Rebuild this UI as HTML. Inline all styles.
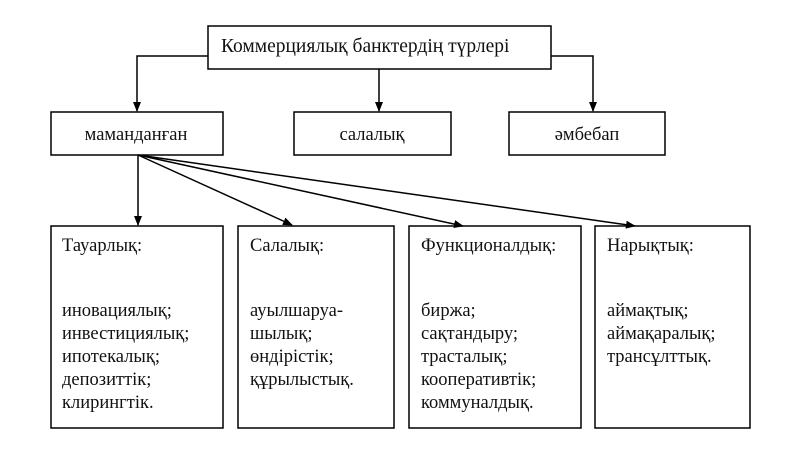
<!DOCTYPE html>
<html><head><meta charset="utf-8"><style>
html,body{margin:0;padding:0;background:#fff;}
svg{display:block;}
text{font-family:"Liberation Serif",serif;font-size:18.5px;fill:#111;}
</style></head><body>
<svg width="800" height="456" viewBox="0 0 800 456" xmlns="http://www.w3.org/2000/svg">
<defs><marker id="a" markerWidth="10" markerHeight="10" refX="9" refY="5" orient="auto" markerUnits="userSpaceOnUse"><path d="M0,1 L10,5 L0,9 z" fill="#000"/></marker></defs>
<g fill="none" stroke="#000" stroke-width="1.5">
<rect x="208" y="26" width="343" height="43"/>
<rect x="51" y="112" width="172" height="43"/>
<rect x="294" y="112" width="157" height="43"/>
<rect x="509" y="112" width="156" height="43"/>
<rect x="51" y="226" width="172" height="202"/>
<rect x="238" y="226" width="156" height="202"/>
<rect x="409" y="226" width="172" height="202"/>
<rect x="595" y="226" width="155" height="202"/>
<polyline points="208,56 137,56 137,111" marker-end="url(#a)"/>
<polyline points="551,56 593,56 593,111" marker-end="url(#a)"/>
<line x1="379" y1="69" x2="379" y2="111" marker-end="url(#a)"/>
<line x1="138" y1="155" x2="138" y2="225" marker-end="url(#a)"/>
<line x1="138" y1="155" x2="292" y2="225" marker-end="url(#a)"/>
<line x1="138" y1="155" x2="463" y2="226" marker-end="url(#a)"/>
<line x1="138" y1="155" x2="635" y2="226" marker-end="url(#a)"/>
</g>
<text x="221" y="52" style="font-size:19.5px">Коммерциялық банктердің түрлері</text>
<text x="136" y="140" text-anchor="middle">маманданған</text>
<text x="372" y="140" text-anchor="middle">салалық</text>
<text x="587" y="140" text-anchor="middle">әмбебап</text>
<g>
<text x="62" y="251">Тауарлық:</text>
<text x="62" y="316">иновациялық;</text>
<text x="62" y="339">инвестициялық;</text>
<text x="62" y="362">ипотекалық;</text>
<text x="62" y="385">депозиттік;</text>
<text x="62" y="408">клирингтік.</text>
<text x="250" y="251">Салалық:</text>
<text x="250" y="316">ауылшаруа-</text>
<text x="250" y="339">шылық;</text>
<text x="250" y="362">өндірістік;</text>
<text x="250" y="385">құрылыстық.</text>
<text x="421" y="251">Функционалдық:</text>
<text x="421" y="316">биржа;</text>
<text x="421" y="339">сақтандыру;</text>
<text x="421" y="362">трасталық;</text>
<text x="421" y="385">кооперативтік;</text>
<text x="421" y="408">коммуналдық.</text>
<text x="607" y="251">Нарықтық:</text>
<text x="607" y="316">аймақтық;</text>
<text x="607" y="339">аймақаралық;</text>
<text x="607" y="362">трансұлттық.</text>
</g>
</svg>
</body></html>
